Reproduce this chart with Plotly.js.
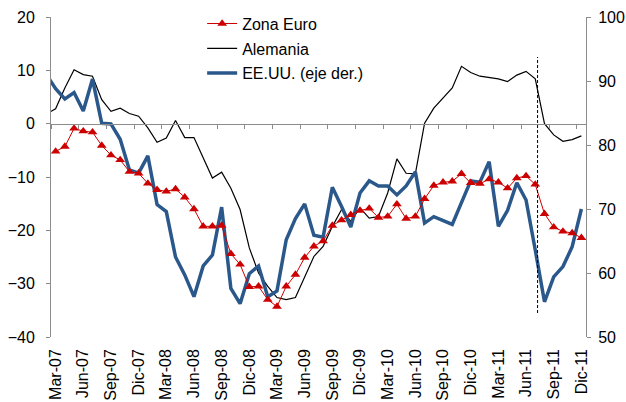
<!DOCTYPE html>
<html>
<head>
<meta charset="utf-8">
<script src="https://cdn.plot.ly/plotly-3.0.1.min.js"></script>
<style>
html,body{margin:0;padding:0;background:#fff;}
#chart{width:626px;height:402px;}
</style>
</head>
<body>
<div id="chart"></div>
<script>
// Months (index 0 = Feb-07, only partly visible at the left edge)
var months = ["Feb-07",
 "Mar-07","Abr-07","May-07","Jun-07","Jul-07","Ago-07","Sep-07","Oct-07","Nov-07","Dic-07",
 "Ene-08","Feb-08","Mar-08","Abr-08","May-08","Jun-08","Jul-08","Ago-08","Sep-08","Oct-08","Nov-08","Dic-08",
 "Ene-09","Feb-09","Mar-09","Abr-09","May-09","Jun-09","Jul-09","Ago-09","Sep-09","Oct-09","Nov-09","Dic-09",
 "Ene-10","Feb-10","Mar-10","Abr-10","May-10","Jun-10","Jul-10","Ago-10","Sep-10","Oct-10","Nov-10","Dic-10",
 "Ene-11","Feb-11","Mar-11","Abr-11","May-11","Jun-11","Jul-11","Ago-11","Sep-11","Oct-11","Nov-11","Dic-11"];

var tickLabels = ["Mar-07","Jun-07","Sep-07","Dic-07","Mar-08","Jun-08","Sep-08","Dic-08",
 "Mar-09","Jun-09","Sep-09","Dic-09","Mar-10","Jun-10","Sep-10","Dic-10","Mar-11","Jun-11","Sep-11","Dic-11"];

var zonaEuro = [null,
 -5.2,-4.3,-0.9,-1.4,-1.6,-4.1,-5.9,-6.8,-9.0,-9.3,-11.2,-12.4,
 -12.7,-12.25,-13.8,-16.0,-19.25,-19.25,-19.1,-24.4,-26.4,-30.6,-30.5,-33.0,
 -34.3,-30.5,-28.3,-25.1,-23.0,-22.0,-19.1,-18.1,-17.1,-16.3,-15.9,-17.6,
 -17.4,-15.1,-17.8,-17.4,-14.1,-11.6,-11.0,-10.8,-9.4,-11.1,-11.25,-10.4,
 -11.0,-12.1,-10.2,-9.8,-11.4,-16.9,-19.4,-20.2,-20.5,-21.4];

var alemania = [1.8,
 2.8,6.7,10.1,9.2,8.9,4.5,2.3,2.9,1.9,1.4,-0.8,-3.5,
 -2.7,0.6,-2.6,-2.6,-6.4,-10.2,-9.1,-12.1,-16.1,-23.3,-28.0,-30.5,
 -32.6,-33.0,-32.6,-28.6,-24.9,-23.0,-19.3,-16.1,-18.3,-15.8,-17.7,-17.4,
 -13.0,-6.6,-9.3,-9.4,0.1,2.9,4.8,6.7,10.75,9.6,8.9,8.7,
 8.4,7.9,9.1,9.8,8.4,0.0,-2.1,-3.3,-3.0,-2.3];

var eeuu = [91.0,
 88.8,87.2,88.2,85.3,90.3,83.4,83.3,80.9,76.1,75.6,78.3,70.7,
 69.6,62.5,59.7,56.3,61.1,62.8,70.3,57.6,55.2,59.9,61.1,56.3,
 57.2,65.2,68.5,70.8,65.9,65.6,73.4,70.4,67.2,72.5,74.4,73.6,
 73.6,72.2,73.6,75.8,67.8,68.8,68.2,67.6,71.0,74.4,74.2,77.4,
 67.3,69.8,74.1,71.4,63.6,55.5,59.4,61.0,64.1,70.0];

var cutMonth = 53.25;          // vertical dashed marker (between Jul-11 and Ago-11)
var cutRange = [-35.5, 12.5];  // in left-axis units

var idx = months.map(function(_, i){ return i; });
var labelVals = tickLabels.map(function(l){ return months.indexOf(l); });
var boundaryVals = labelVals.map(function(v){ return v - 0.5; });

var axisGray = "#8c8c8c";
var fnt = {family: "Liberation Sans, Arial, sans-serif", size: 16, color: "#000"};

var traces = [
 {x: idx, y: eeuu, name: "EE.UU. (eje der.)", type: "scatter", mode: "lines",
  xaxis: "x", yaxis: "y2", legendgroup: "c", legendrank: 3,
  line: {color: "#2B588B", width: 3.5}},
 {x: idx, y: alemania, name: "Alemania", type: "scatter", mode: "lines",
  xaxis: "x", yaxis: "y", legendgroup: "b", legendrank: 2,
  line: {color: "#000", width: 1.2}},
 {x: idx, y: zonaEuro, name: "Zona Euro", type: "scatter", mode: "lines+markers",
  xaxis: "x2", yaxis: "y", legendgroup: "a", legendrank: 1,
  line: {color: "#CC0000", width: 1},
  marker: {symbol: "triangle-up", size: 8.5, color: "#CC0000"}}
];

var layout = {
 width: 626, height: 402,
 margin: {l: 51, r: 40, t: 17, b: 65, pad: 0, autoexpand: false},
 paper_bgcolor: "#fff", plot_bgcolor: "#fff",
 font: fnt,
 showlegend: true,
 legend: {x: 0.2825, y: 1.0325, xanchor: "left", yanchor: "top",
  font: fnt, bgcolor: "rgba(0,0,0,0)", tracegroupgap: 1, traceorder: "grouped"},
 xaxis: {range: [0.5, 58.5], domain: [0, 1], anchor: "y",
  tickmode: "array", tickvals: labelVals, ticktext: tickLabels,
  tickangle: -90, ticks: "", showline: false, showgrid: false, zeroline: false,
  tickfont: fnt, ticklabelstandoff: 8},
 xaxis2: {overlaying: "x", matches: "x", anchor: "free", position: 2/3,
  tickmode: "array", tickvals: boundaryVals, showticklabels: false,
  ticks: "outside", ticklen: 4, tickcolor: axisGray, tickwidth: 1,
  showline: true, linecolor: axisGray, linewidth: 1, showgrid: false, zeroline: false},
 yaxis: {range: [-40, 20], dtick: 10, tick0: 0, ticks: "outside", ticklen: 4,
  tickcolor: axisGray, showline: true, linecolor: axisGray, linewidth: 1,
  showgrid: false, zeroline: false, tickfont: fnt, ticklabelstandoff: 8},
 yaxis2: {range: [50, 100], dtick: 10, tick0: 50, overlaying: "y", side: "right",
  anchor: "x", ticks: "outside", ticklen: 4, tickcolor: axisGray,
  showline: true, linecolor: axisGray, linewidth: 1, showgrid: false, zeroline: false,
  tickfont: fnt, ticklabelstandoff: 4},
 shapes: [{type: "line", xref: "x", yref: "y", x0: cutMonth, x1: cutMonth,
  y0: cutRange[0], y1: cutRange[1], line: {color: "#000", width: 1, dash: "3px,2px"}}]
};

Plotly.newPlot("chart", traces, layout, {staticPlot: true, displayModeBar: false});
</script>
</body>
</html>
